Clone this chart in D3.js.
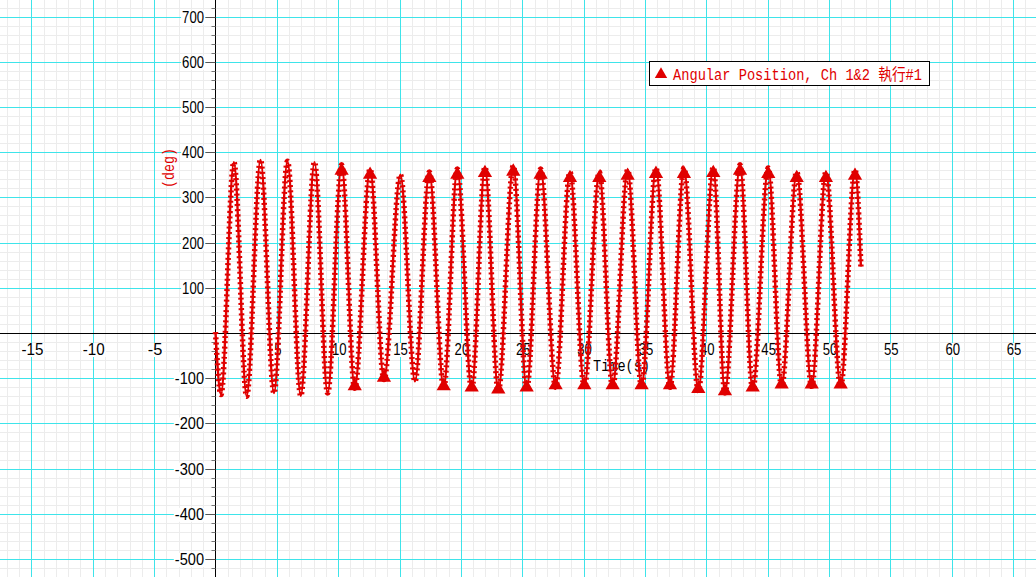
<!DOCTYPE html>
<html><head><meta charset="utf-8">
<script src="https://cdn.jsdelivr.net/npm/d3@7"></script>
<style>body{margin:0;background:#fff;} svg{display:block;}</style>
</head><body>
<svg id="c" width="1036" height="577"></svg>
<script>
// ---- data ----
const peakTimes   = [1.50,3.67,5.87,8.07,10.28,12.60,15.07,17.43,19.71,21.96,24.27,26.50,28.89,31.28,33.59,35.90,38.18,40.57,42.75,45.05,47.37,49.75,52.12];
const peakValues  = [378,383,380,378,372,363,350,356,363,367,370,363,356,356,361,365,365,367,372,365,356,356,361];
const peakTriangle = [0,0,0,0,1,1,0,1,1,1,1,1,1,1,1,1,1,1,1,1,1,1,1];
const troughTimes  = [0.45,2.54,4.77,6.95,9.14,11.35,13.73,16.26,18.60,20.88,23.05,25.36,27.72,30.06,32.37,34.73,37.04,39.35,41.52,43.78,46.14,48.59,50.95];
const troughValues = [-136,-140,-133,-139,-133,-122,-103,-107,-122,-125,-129,-125,-120,-120,-120,-120,-120,-128,-133,-125,-118,-118,-118];
const troughTriangle = [0,0,0,0,0,1,1,0,1,1,1,1,1,1,1,1,1,1,1,1,1,1,1];
const startPoint = [0, 2];
const endPoint = [52.6, 147];
const xTickLabels = [-15,-10,-5,5,10,15,20,25,30,35,40,45,50,55,60,65];
const yTickLabels = [700,600,500,400,300,200,100,-100,-200,-300,-400,-500];
const seriesName = "Angular Position, Ch 1&2 執行#1";
const xTitle = "Time(s)";
const yTitle = "(deg)";

// ---- layout ----
const W = 1036, H = 577;
const RED = "#e00000";
const svg = d3.select("#c");
const x = d3.scaleLinear().domain([-17.56, 66.87]).range([0, W]);
const y = d3.scaleLinear().domain([736.7, -539.8]).range([0, H]);
const px = v => Math.round(x(v)) + 0.5;
const py = v => Math.round(y(v)) + 0.5;

// minor grid
const g = svg.append("g");
const minorX = d3.range(-17, 67, 1).filter(t => t % 5 !== 0);
const minorY = d3.range(-520, 740, 20).filter(v => v % 100 !== 0);
g.selectAll(".mx").data(minorX).join("line")
  .attr("x1", d => px(d)).attr("x2", d => px(d)).attr("y1", 0).attr("y2", H)
  .attr("stroke", "#ececec").attr("stroke-width", 1);
g.selectAll(".my").data(minorY).join("line")
  .attr("y1", d => py(d)).attr("y2", d => py(d)).attr("x1", 0).attr("x2", W)
  .attr("stroke", "#ececec").attr("stroke-width", 1);
// major grid
const majorX = d3.range(-15, 70, 5).filter(t => t !== 0);
const majorY = d3.range(-500, 800, 100).filter(v => v !== 0);
g.selectAll(".Mx").data(majorX).join("line")
  .attr("x1", d => px(d)).attr("x2", d => px(d)).attr("y1", 0).attr("y2", H)
  .attr("stroke", "#3ee4ea").attr("stroke-width", 1);
g.selectAll(".My").data(majorY).join("line")
  .attr("y1", d => py(d)).attr("y2", d => py(d)).attr("x1", 0).attr("x2", W)
  .attr("stroke", "#3ee4ea").attr("stroke-width", 1);

// axes lines
svg.append("line").attr("x1", 0).attr("x2", W).attr("y1", py(0)).attr("y2", py(0)).attr("stroke", "#000");
svg.append("line").attr("x1", px(0)).attr("x2", px(0)).attr("y1", 0).attr("y2", H).attr("stroke", "#000");
// y ticks
svg.selectAll(".ytm").data(minorY).join("line")
  .attr("x1", px(0) - 4).attr("x2", px(0)).attr("y1", d => py(d)).attr("y2", d => py(d))
  .attr("stroke", "#777");
svg.selectAll(".ytM").data(yTickLabels).join("line")
  .attr("x1", px(0) - 10).attr("x2", px(0)).attr("y1", d => py(d)).attr("y2", d => py(d))
  .attr("stroke", "#555");

function labelWithBg(parent, txt, xx, yy, anchor, len, opts = {}) {
  const grp = parent.append("g");
  const rect = grp.append("rect").attr("fill", "#fff");
  const t = grp.append("text").text(txt)
    .attr("x", xx).attr("y", yy)
    .attr("text-anchor", anchor)
    .attr("font-family", opts.font || "'Liberation Sans', Arial, sans-serif")
    .attr("font-size", opts.size || 16)
    .attr("fill", opts.fill || "#000")
    .attr("textLength", len).attr("lengthAdjust", "spacingAndGlyphs");
  const b = t.node().getBBox();
  rect.attr("x", b.x - 1).attr("y", b.y + 2).attr("width", b.width + 2).attr("height", b.height - 3);
  return grp;
}
// y tick labels
const lab = svg.append("g");
yTickLabels.forEach(v => {
  const s = String(v);
  labelWithBg(lab, s, 204, y(v) + 6, "end", s.length * 7.3);
});
// x tick labels
xTickLabels.forEach(t => {
  const s = String(t);
  labelWithBg(lab, s, x(t) + 1, 355, "middle", s.length * 7.3);
});
// axis titles
const monoFont = "'Liberation Mono', 'Noto Sans CJK JP', monospace";
labelWithBg(lab, xTitle, 593, 371, "start", 57, {font: monoFont, size: 16});
svg.append("text").text(yTitle)
  .attr("transform", "translate(174,168) rotate(-90)")
  .attr("text-anchor", "middle")
  .attr("font-family", monoFont).attr("font-size", 16).attr("fill", RED)
  .attr("textLength", 40).attr("lengthAdjust", "spacingAndGlyphs");

// ---- series ----
const pts = [startPoint];
for (let i = 0; i < peakTimes.length; i++) {
  pts.push([troughTimes[i], troughValues[i]]);
  pts.push([peakTimes[i], peakValues[i]]);
}
pts.push(endPoint);
const line = d3.line().x(d => x(d[0])).y(d => y(d[1])).curve(d3.curveMonotoneX);
svg.append("path").attr("d", line(pts)).attr("fill", "none")
  .attr("stroke", RED).attr("stroke-width", 2.4);
svg.append("path").attr("d", line(pts)).attr("fill", "none")
  .attr("stroke", RED).attr("stroke-width", 5.5).attr("stroke-dasharray", "2,3.2");

const tri = d3.symbol().type(d3.symbolTriangle).size(88);
const triPts = [];
peakTimes.forEach((t, i) => { if (peakTriangle[i]) triPts.push({t, v: peakValues[i], dy: 5.8}); });
troughTimes.forEach((t, i) => { if (troughTriangle[i]) triPts.push({t, v: troughValues[i], dy: -2}); });
svg.selectAll(".tri").data(triPts).join("path")
  .attr("d", tri).attr("fill", RED)
  .attr("transform", d => `translate(${x(d.t)},${y(d.v) + d.dy})`);

// ---- legend ----
const lg = svg.append("g");
lg.append("rect").attr("x", 649.5).attr("y", 61.5).attr("width", 280).attr("height", 24)
  .attr("fill", "#fff").attr("stroke", "#000");
lg.append("path").attr("d", d3.symbol().type(d3.symbolTriangle).size(66)())
  .attr("transform", "translate(661,74.5)").attr("fill", RED);
lg.append("text").text(seriesName).attr("x", 673).attr("y", 80)
  .attr("font-family", monoFont).attr("font-size", 16).attr("fill", RED)
  .attr("textLength", 249).attr("lengthAdjust", "spacingAndGlyphs");
</script>
</body></html>
